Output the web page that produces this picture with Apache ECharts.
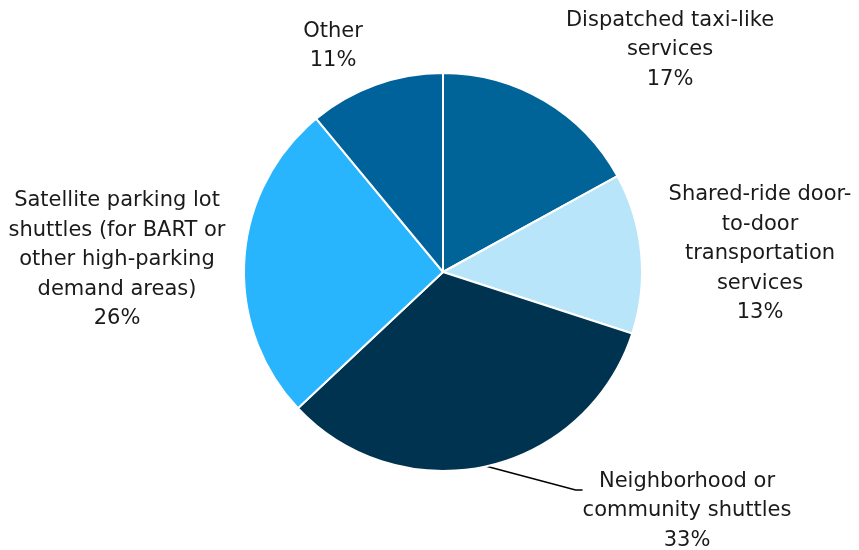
<!DOCTYPE html>
<html>
<head>
<meta charset="utf-8">
<script src="https://cdn.jsdelivr.net/npm/echarts@6/dist/echarts.min.js"></script>
<style>html,body{margin:0;padding:0;background:#fff}#c{width:859px;height:550px}</style>
</head>
<body>
<div id="c"></div>
<script>
const categories = ["Dispatched taxi-like services", "Shared-ride door-to-door transportation services", "Neighborhood or community shuttles", "Satellite parking lot shuttles (for BART or other high-parking demand areas)", "Other"];
const labelLines = [
  "Dispatched taxi-like\nservices",
  "Shared-ride door-\nto-door\ntransportation\nservices",
  "Neighborhood or\ncommunity shuttles",
  "Satellite parking lot\nshuttles (for BART or\nother high-parking\ndemand areas)",
  "Other"
];
const values = [17, 13, 33, 26, 11];
const colors = ["#006499", "#B9E5FB", "#003350", "#29B4FE", "#00629B"];

// label anchor positions (center of label box)
const labelPos = [
  [670, 50],
  [760, 254],
  [687, 490],
  [117, 260],
  [333, 46]
];

const chart = echarts.init(document.getElementById('c'));
chart.setOption({
  animation: false,
  series: [{
    type: 'pie',
    center: [443, 272],
    radius: 199,
    startAngle: 90,
    clockwise: true,
    itemStyle: { borderColor: '#fff', borderWidth: 2 },
    label: {
      show: true,
      position: 'outside',
      fontFamily: 'DejaVu Sans',
      fontSize: 21,
      lineHeight: 29.5,
      color: '#1a1a1a',
      align: 'center',
      overflow: 'none',
      rich: { g: { fontSize: 1, lineHeight: 42, height: 42 } },
      formatter: p => (p.dataIndex === 2 ? '{g| }\n' : '') + labelLines[p.dataIndex] + '\n' + p.value + '%'
    },
    labelLine: { show: false, lineStyle: { color: '#000', width: 1.6 }, length: 10, length2: 7 },
    labelLayout: function (p) {
      const pos = labelPos[p.dataIndex];
      return { x: pos[0], y: pos[1], align: 'center', verticalAlign: 'middle' };
    },
    data: categories.map((c, i) => ({
      name: c,
      value: values[i],
      itemStyle: { color: colors[i] },
      labelLine: { show: i === 2 }
    }))
  }]
});
</script>
</body>
</html>
